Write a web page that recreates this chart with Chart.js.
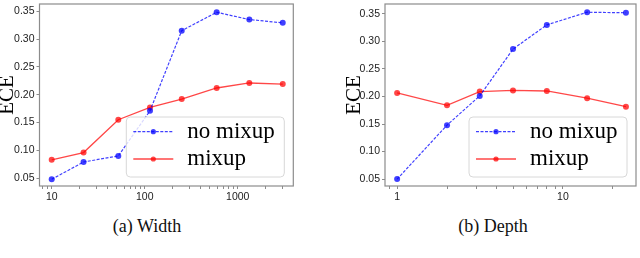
<!DOCTYPE html>
<html>
<head>
<meta charset="utf-8">
<script src="https://cdn.jsdelivr.net/npm/chart.js@4"></script>
<style>
    body { margin: 0; background: #fff; width: 640px; height: 258px; position: relative; overflow: hidden; }
    canvas { position: absolute; top: 0; }
    #chart-width { left: 0; }
    #chart-depth { left: 320px; }
    .caption {
        position: absolute; top: 216px;
        font-family: "Liberation Serif", serif; font-size: 18px; color: #111;
        transform: translateX(-50%); white-space: nowrap;
    }
</style>
</head>
<body>
<canvas id="chart-width" width="320" height="210"></canvas>
<canvas id="chart-depth" width="320" height="210"></canvas>
<div class="caption" style="left:147px">(a) Width</div>
<div class="caption" style="left:493px">(b) Depth</div>
<script>
// ── Data ──────────────────────────────────────────────────────────────────────

const widths       = [10, 22, 52, 114, 250, 594, 1333, 3048];
const widthNoMixup = [0.048, 0.079, 0.090, 0.171, 0.315, 0.348, 0.335, 0.329];
const widthMixup   = [0.083, 0.096, 0.155, 0.177, 0.192, 0.212, 0.221, 0.219];

const depths       = [1, 2, 3.15, 5, 8, 14, 24];
const depthNoMixup = [0.050, 0.148, 0.201, 0.286, 0.330, 0.353, 0.352];
const depthMixup   = [0.2065, 0.184, 0.209, 0.211, 0.210, 0.197, 0.1815];

// tick positions (log minor ticks included, only powers of ten get a label)
const widthTicks = [8, 9, 10, 20, 30, 40, 50, 60, 70, 80, 90,
                    100, 200, 300, 400, 500, 600, 700, 800, 900, 1000, 2000, 3000];
const depthTicks = [0.9, 1, 2, 3, 4, 5, 6, 7, 8, 9, 10, 20];
const eceTicks   = [0.05, 0.10, 0.15, 0.20, 0.25, 0.30, 0.35];

const seriesLabels = ["no mixup", "mixup"];

// ── Styles ────────────────────────────────────────────────────────────────────

const FRAME     = "#8c8c8c";
const BLUE      = "rgba(0, 0, 255, 0.75)";
const RED       = "rgba(255, 0, 0, 0.72)";
const TICK_FONT = { family: "Liberation Sans", size: 10.5 };
const SERIF     = "Liberation Serif";

const isPow10 = v => Math.abs(Math.log10(v) - Math.round(Math.log10(v))) < 1e-9;

// ── Plugins ───────────────────────────────────────────────────────────────────

// grey box round the plot area (matplotlib style spines)
const framePlugin = {
    id: "frame",
    beforeDatasetsDraw(chart) {
        const { ctx, chartArea: a } = chart;
        ctx.save();
        ctx.strokeStyle = FRAME;
        ctx.lineWidth = 1.2;
        ctx.strokeRect(a.left, a.top, a.right - a.left, a.bottom - a.top);
        ctx.restore();
    },
};

// legend box in the lower right corner of the plot area
const boxLegend = {
    id: "boxLegend",
    afterDatasetsDraw(chart) {
        const { ctx, chartArea: a } = chart;
        const w = 158, h = 60, inset = 9;
        const x = a.right - inset - w;
        const y = a.bottom - inset - h;

        ctx.save();
        ctx.beginPath();
        ctx.roundRect(x, y, w, h, 4);
        ctx.fillStyle = "rgba(255, 255, 255, 0.8)";
        ctx.fill();
        ctx.strokeStyle = "#d8d8d8";
        ctx.lineWidth = 1;
        ctx.stroke();

        chart.data.datasets.forEach((ds, i) => {
            const rowY = y + 14.7 + i * 27.3;

            ctx.beginPath();
            ctx.setLineDash(ds.borderDash || []);
            ctx.strokeStyle = ds.borderColor;
            ctx.lineWidth = ds.borderWidth;
            ctx.moveTo(x + 7, rowY);
            ctx.lineTo(x + 47, rowY);
            ctx.stroke();
            ctx.setLineDash([]);

            ctx.beginPath();
            ctx.arc(x + 27, rowY, 2.6, 0, Math.PI * 2);
            ctx.fillStyle = ds.pointBackgroundColor;
            ctx.fill();

            ctx.fillStyle = "#000";
            ctx.font = `23px "${SERIF}"`;
            ctx.textBaseline = "alphabetic";
            ctx.fillText(ds.label, x + 61, rowY + 6);
        });
        ctx.restore();
    },
};

// ── Chart builder ─────────────────────────────────────────────────────────────

function makeChart(id, xs, noMix, mix, xTicks, xRange, yRange, pad, axisWidth) {
    const pts = ys => xs.map((x, i) => ({ x, y: ys[i] }));

    return new Chart(document.getElementById(id), {
        type: "line",
        data: {
            datasets: [
                {
                    label:           seriesLabels[0],
                    data:            pts(noMix),
                    borderColor:     BLUE,
                    borderWidth:     1.2,
                    borderDash:      [3, 1.5],
                    pointBackgroundColor: BLUE,
                    pointBorderWidth: 0,
                    pointRadius:     3,
                },
                {
                    label:           seriesLabels[1],
                    data:            pts(mix),
                    borderColor:     RED,
                    borderWidth:     1.3,
                    pointBackgroundColor: RED,
                    pointBorderWidth: 0,
                    pointRadius:     3,
                },
            ],
        },
        options: {
            responsive: false,
            animation:  false,
            layout:     { padding: pad },
            plugins: {
                legend:  { display: false },
                tooltip: { enabled: false },
            },
            scales: {
                x: {
                    type: "logarithmic",
                    min:  xRange[0],
                    max:  xRange[1],
                    afterBuildTicks: s => { s.ticks = xTicks.map(v => ({ value: v })); },
                    afterFit: s => { s.height = 24; s.paddingLeft = 0; s.paddingRight = 0; },
                    grid:   { drawOnChartArea: false, tickLength: 3, color: FRAME },
                    border: { display: false },
                    ticks: {
                        font: TICK_FONT, color: "#222", padding: 2,
                        autoSkip: false, maxRotation: 0,
                        callback: v => isPow10(v) ? String(Math.round(v)) : "",
                    },
                },
                y: {
                    min: yRange[0],
                    max: yRange[1],
                    afterBuildTicks: s => { s.ticks = eceTicks.map(v => ({ value: v })); },
                    afterFit: s => { s.width = axisWidth; s.paddingTop = 0; s.paddingBottom = 0; },
                    grid:   { drawOnChartArea: false, tickLength: 3, color: FRAME },
                    border: { display: false },
                    ticks:  { font: TICK_FONT, color: "#222", padding: 2, callback: v => v.toFixed(2) },
                    title: {
                        display: true,
                        text:    "ECE",
                        color:   "#000",
                        padding: 0,
                        font:    { family: SERIF, size: 21, lineHeight: 0.72 },
                    },
                },
            },
        },
        plugins: [framePlugin, boxLegend],
    });
}

// ── Draw both panels ──────────────────────────────────────────────────────────

makeChart("chart-width", widths, widthNoMixup, widthMixup, widthTicks,
          [7.39, 3960], [0.0359, 0.3629],
          { top: 1, left: 0, right: 26.7, bottom: 0 }, 39.5);

makeChart("chart-depth", depths, depthNoMixup, depthMixup, depthTicks,
          [0.845, 27.6], [0.0375, 0.3679],
          { top: 1, left: 27, right: 1, bottom: 0 }, 38);
</script>
</body>
</html>
